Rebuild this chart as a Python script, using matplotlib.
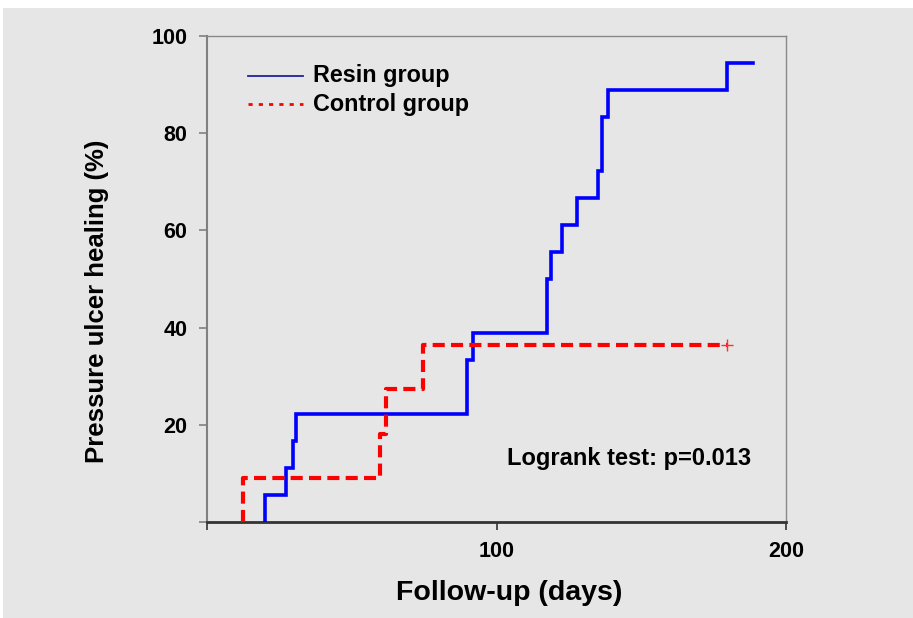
import matplotlib.pyplot as plt
from matplotlib.patches import Rectangle

# Kaplan-Meier style healing curves
resin_days = [20, 20, 27.4, 29.8, 30.7, 89.7, 92.0, 117.4, 118.8, 122.7,
              127.9, 134.9, 136.5, 138.6, 179.7, 188.7]
resin_healed = [0, 5.6, 11.1, 16.7, 22.2, 33.3, 38.9, 50.0, 55.6, 61.1,
                66.7, 72.2, 83.3, 88.9, 94.4, 94.4]

control_days = [12.5, 12.5, 59.8, 61.8, 74.6, 179.6]
control_healed = [0, 9.1, 18.2, 27.3, 36.4, 36.4]
control_censor_day = 179.6
control_censor_val = 36.4

x_ticks = [0, 100, 200]
x_ticklabels = ["", "100", "200"]
y_ticks = [0, 20, 40, 60, 80, 100]
y_ticklabels = ["", "20", "40", "60", "80", "100"]

plt.rcParams['font.family'] = ['Liberation Sans', 'DejaVu Sans']
plt.rcParams['font.weight'] = 'bold'

bg = '#e6e6e6'
fig = plt.figure(figsize=(9.13, 6.18), dpi=100)
fig.patch.set_facecolor('white')
fig.patches.append(Rectangle((3 / 913, 0), 1, 1 - 8 / 618, transform=fig.transFigure,
                             facecolor=bg, edgecolor='none', zorder=-10))

ax = fig.add_axes([207 / 913, 96 / 618, 579 / 913, 486 / 618])
ax.set_facecolor(bg)

ax.step(resin_days, resin_healed, where='post', color='#0000ff', linewidth=2.6,
        solid_joinstyle='miter', zorder=3)
ax.step(control_days, control_healed, where='post', color='#ff0000', linewidth=3.0,
        linestyle=(0, (2.9, 1.5)), zorder=3)
ax.plot([control_censor_day], [control_censor_val], marker='+', color='#ff3030',
        markersize=8, markeredgewidth=1.0, linestyle='none', zorder=4)

ax.set_xlim(0, 200)
ax.set_ylim(0, 100)
ax.set_xticks(x_ticks)
ax.set_xticklabels(x_ticklabels)
ax.set_yticks(y_ticks)
ax.set_yticklabels(y_ticklabels)
ax.tick_params(axis='both', labelsize=15.5, direction='out', length=6, width=1.2)
ax.tick_params(axis='x', colors='#333333', pad=8, labelcolor='black')
ax.tick_params(axis='y', colors='#808080', pad=8, labelcolor='black')

for side in ['top', 'right']:
    ax.spines[side].set_color('#888888')
    ax.spines[side].set_linewidth(1.0)
ax.spines['left'].set_color('#808080')
ax.spines['left'].set_linewidth(1.5)
ax.spines['bottom'].set_color('#333333')
ax.spines['bottom'].set_linewidth(2.0)

ax.set_xlabel("Follow-up (days)", fontsize=20.5, fontweight='bold')
ax.set_ylabel("Pressure ulcer healing (%)", fontsize=18.5, fontweight='bold')
ax.xaxis.set_label_coords(0.5216, -0.119)
ax.yaxis.set_label_coords(-0.169, 0.455)

# hand-drawn legend like the original slide
ax.plot([0.071, 0.166], [0.918, 0.918], transform=ax.transAxes, color='#2020a0',
        linewidth=1.3, clip_on=False)
ax.plot([0.071, 0.166], [0.86, 0.86], transform=ax.transAxes, color='#ff0000',
        linewidth=2.0, linestyle=(0, (1.5, 2.2)), clip_on=False)
ax.text(0.183, 0.918, "Resin group", transform=ax.transAxes, fontsize=16.8,
        fontweight='bold', va='center', ha='left')
ax.text(0.183, 0.86, "Control group", transform=ax.transAxes, fontsize=16.8,
        fontweight='bold', va='center', ha='left')

ax.text(103.6, 13.0, "Logrank test: p=0.013", fontsize=17, fontweight='bold',
        va='center', ha='left')

fig.savefig("out.png", dpi=100, facecolor=fig.get_facecolor())
